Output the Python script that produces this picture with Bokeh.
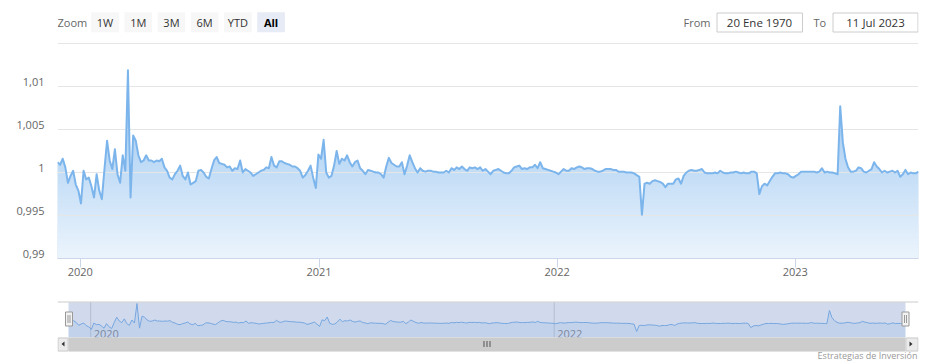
import numpy as np
import pandas as pd
from bokeh.plotting import figure
from bokeh.models import (ColumnDataSource, Range1d, FixedTicker, DatetimeTickFormatter,
                          CustomJSTickFormatter, LinearAxis)
from bokeh.layouts import column
from bokeh.core.properties import value
from bokeh.embed import file_html
from bokeh.resources import INLINE

# ---------------- data ----------------
START_DATE = "2019-11-27"
STEP = "4D"
VALUES = [
    1.0012, 1.0009, 1.0016, 1.0006, 0.9988, 0.9996, 1.0002, 0.9986, 0.9979, 0.9964,
    1.0002, 0.9992, 0.9994, 0.9984, 0.9971, 0.9998, 0.9979, 0.9969, 1.0004, 1.0037,
    1.0014, 1.0004, 1.0027, 0.9998, 0.9988, 1.0020, 1.0002, 1.0119, 0.9971, 1.0043,
    1.0037, 1.0020, 1.0012, 1.0014, 1.0020, 1.0014, 1.0014, 1.0012, 1.0014, 1.0013,
    1.0016, 1.0006, 1.0002, 0.9994, 0.9992, 0.9998, 1.0002, 1.0008, 0.9996, 0.9992,
    1.0000, 0.9986, 0.9988, 0.9990, 1.0002, 1.0003, 1.0000, 0.9995, 0.9993, 1.0004,
    1.0014, 1.0018, 1.0011, 1.0010, 1.0009, 1.0006, 1.0007, 1.0002, 1.0005, 1.0004,
    1.0014, 1.0000, 1.0004, 1.0002, 1.0000, 0.9996, 0.9998, 1.0000, 1.0002, 1.0003,
    1.0006, 1.0005, 1.0018, 1.0008, 1.0006, 1.0013, 1.0013, 1.0011, 1.0010, 1.0009,
    1.0007, 1.0007, 1.0005, 1.0002, 0.9994, 0.9997, 1.0002, 1.0008, 0.9994, 0.9982,
    1.0021, 1.0016, 1.0038, 1.0000, 0.9994, 0.9996, 1.0008, 1.0025, 1.0010, 1.0016,
    1.0014, 1.0020, 1.0012, 1.0007, 1.0012, 1.0014, 1.0005, 1.0002, 0.9998, 1.0003,
    1.0002, 1.0001, 1.0000, 1.0000, 0.9998, 0.9994, 1.0007, 1.0017, 1.0011, 1.0009,
    1.0007, 1.0007, 1.0012, 0.9998, 1.0008, 1.0020, 1.0012, 1.0005, 1.0000, 1.0005,
    1.0002, 1.0001, 1.0002, 1.0002, 1.0001, 1.0001, 1.0000, 1.0000, 1.0000, 1.0002,
    1.0000, 1.0005, 1.0003, 1.0006, 1.0004, 1.0007, 1.0004, 1.0002, 1.0006, 1.0005,
    1.0006, 1.0004, 1.0006, 1.0002, 1.0004, 1.0001, 0.9998, 1.0002, 1.0003, 1.0004,
    1.0002, 1.0000, 0.9999, 0.9999, 1.0002, 1.0006, 1.0007, 1.0008, 1.0004, 1.0005,
    1.0004, 1.0006, 1.0006, 1.0009, 1.0005, 1.0012, 1.0005, 1.0004, 1.0003, 1.0002,
    1.0001, 1.0000, 0.9998, 1.0001, 1.0004, 1.0002, 1.0002, 1.0005, 1.0004, 1.0006,
    1.0007, 1.0006, 1.0004, 1.0005, 1.0005, 1.0004, 1.0002, 1.0001, 1.0001, 1.0002,
    1.0004, 1.0004, 1.0004, 1.0003, 1.0003, 1.0001, 1.0001, 1.0001, 1.0000, 1.0000,
    1.0000, 0.9999, 0.9997, 0.9995, 0.9951, 0.9987, 0.9988, 0.9987, 0.9990, 0.9991,
    0.9990, 0.9989, 0.9987, 0.9983, 0.9987, 0.9987, 0.9987, 0.9992, 0.9993, 0.9987,
    0.9996, 1.0000, 1.0002, 1.0003, 1.0002, 1.0002, 1.0003, 1.0004, 1.0000, 0.9999,
    0.9999, 0.9999, 1.0000, 0.9999, 1.0002, 1.0000, 0.9999, 0.9999, 1.0000, 1.0000,
    1.0001, 1.0000, 0.9999, 1.0000, 0.9999, 0.9999, 1.0001, 1.0001, 0.9999, 0.9975,
    0.9984, 0.9987, 0.9985, 0.9990, 0.9995, 0.9999, 0.9999, 1.0000, 0.9999, 0.9999,
    0.9998, 0.9995, 0.9994, 0.9996, 0.9998, 1.0001, 1.0001, 1.0001, 1.0001, 1.0001,
    1.0001, 1.0000, 1.0001, 1.0005, 1.0000, 1.0001, 1.0000, 1.0000, 0.9999, 0.9998,
    1.0077, 1.0035, 1.0016, 1.0006, 1.0001, 1.0001, 1.0002, 1.0006, 1.0005, 1.0001,
    1.0000, 1.0002, 1.0004, 1.0012, 1.0007, 1.0004, 1.0000, 1.0002, 1.0000, 1.0001,
    1.0002, 1.0000, 1.0002, 0.9995, 0.9998, 1.0003, 0.9998, 1.0000, 0.9999, 0.9999, 1.0001,
]
Y_TICKS = [0.99, 0.995, 1.0, 1.005, 1.01]
GRID_LEVELS = [0.995, 1.0, 1.005, 1.01, 1.015]
Y_MIN, Y_MAX = 0.99, 1.015
X_TICK_DATES = ["2020-01-01", "2021-01-01", "2022-01-01", "2023-01-01"]
NAV_TICK_DATES = ["2020-01-01", "2022-01-01"]
NAV_TICK_LABELS = ["2020", "2022"]
BUTTONS = ["1W", "1M", "3M", "6M", "YTD", "All"]
SELECTED = "All"
FROM_TEXT = "20 Ene 1970"
TO_TEXT = "11 Jul 2023"
CREDITS = "Estrategias de Inversión"

# ---------------- styling ----------------
W = 928
FL, FR = 57, 918          # frame left / right (pixels)
FONT = value("Open Sans")
LINE = "#7cb5ec"


def ms(ts):
    return pd.Timestamp(ts).value / 1e6


dates = pd.date_range(START_DATE, periods=len(VALUES), freq=STEP)
src = ColumnDataSource(dict(date=dates, val=VALUES))
t0, t1 = ms(dates[0]), ms(dates[-1])


def chrome_fig(h, y0, y1):
    f = figure(width=W, height=h, x_range=Range1d(FL, FR), y_range=Range1d(y1, y0),
               x_axis_location=None, y_axis_location=None,
               min_border_left=FL, min_border_right=W - FR, min_border_top=0, min_border_bottom=0,
               output_backend="svg", toolbar_location=None, tools="")
    f.outline_line_color = None
    f.grid.visible = False
    return f


# ---------------- top bar (range selector) ----------------
top = chrome_fig(42, 0, 42)
top.text(x=[57], y=[22], text=["Zoom"], text_font=FONT, text_font_size="11px",
         text_color="#666666", text_align="left", text_baseline="middle")
b_left = [90.7 + 33.2 * k for k in range(len(BUTTONS))]
b_fill = ["#e6ebf5" if b == SELECTED else "#f7f7f7" for b in BUTTONS]
top.quad(left=b_left, right=[l + 27.7 for l in b_left], top=[11.7] * len(BUTTONS),
         bottom=[31.7] * len(BUTTONS), fill_color=b_fill, line_color=None)
normal = [i for i, b in enumerate(BUTTONS) if b != SELECTED]
sel = [i for i, b in enumerate(BUTTONS) if b == SELECTED]
top.text(x=[b_left[i] + 13.85 for i in normal], y=[22] * len(normal), text=[BUTTONS[i] for i in normal],
         text_font=FONT, text_font_size="11px", text_color="#333333", text_align="center", text_baseline="middle")
top.text(x=[b_left[i] + 13.85 for i in sel], y=[22] * len(sel), text=[BUTTONS[i] for i in sel],
         text_font=FONT, text_font_size="11px", text_font_style="bold", text_color="#000000",
         text_align="center", text_baseline="middle")
top.text(x=[683, 813], y=[22, 22], text=["From", "To"], text_font=FONT, text_font_size="11px",
         text_color="#666666", text_align="left", text_baseline="middle")
top.quad(left=[716.5, 832.5], right=[802, 917.5], top=[12.5, 12.5], bottom=[31.5, 31.5],
         fill_color="white", line_color="#cccccc", line_width=1)
top.text(x=[759, 875], y=[22, 22], text=[FROM_TEXT, TO_TEXT], text_font=FONT, text_font_size="11.5px",
         text_color="#333333", text_align="center", text_baseline="middle")

# ---------------- main chart ----------------
px_per_unit = 215 / (Y_MAX - Y_MIN)
Y_END = Y_MAX + 1 / px_per_unit
main = figure(width=W, height=248, x_axis_type="datetime", y_axis_location=None,
              x_range=Range1d(t0, t1), y_range=Range1d(Y_MIN, Y_END),
              min_border_left=FL, min_border_right=W - FR, min_border_top=0, min_border_bottom=32,
              output_backend="svg", toolbar_location=None, tools="")
main.outline_line_color = None
main.grid.visible = False

main.varea(x="date", y1=Y_MIN, y2="val", source=src, fill_color=LINE, fill_alpha=1.0)
# vertical white fade (gradient) over the area, as an image
NROWS = 215
frac = (np.arange(NROWS) + 0.5) / NROWS          # 0 at bottom, 1 at top
alpha = (0.855 - frac * 0.765) * 255
img = np.zeros((NROWS, 1), dtype=np.uint32)
view = img.view(dtype=np.uint8).reshape((NROWS, 1, 4))
view[:, 0, 0] = 255
view[:, 0, 1] = 255
view[:, 0, 2] = 255
view[:, 0, 3] = alpha.astype(np.uint8)
main.image_rgba(image=[img], x=t0, y=Y_MIN, dw=t1 - t0, dh=Y_MAX - Y_MIN)
main.segment(x0=t0, x1=t1, y0=GRID_LEVELS, y1=GRID_LEVELS, line_color="#e6e6e6", line_width=1)
main.line(x="date", y="val", source=src, line_color=LINE, line_width=2, line_join="round")

xa = main.xaxis[0]
xa.ticker = FixedTicker(ticks=[ms(d) for d in X_TICK_DATES])
xa.formatter = DatetimeTickFormatter(years="%Y", months="%Y", days="%Y")
xa.axis_line_color = "#ccd6eb"
xa.major_tick_line_color = "#ccd6eb"
xa.minor_tick_line_color = None
xa.major_tick_out = 9
xa.major_tick_in = 0
xa.major_label_standoff = 0
xa.major_label_text_color = "#666666"
xa.major_label_text_font = "Open Sans"
xa.major_label_text_font_size = "11px"

# y labels sit ~5px above their grid lines (Highcharts style): axis on a shifted range
shift = 5 / px_per_unit
main.extra_y_ranges = {"lab": Range1d(Y_MIN - shift, Y_END - shift)}
ya = LinearAxis(y_range_name="lab")
ya.ticker = FixedTicker(ticks=Y_TICKS)
ya.formatter = CustomJSTickFormatter(code="return String(tick).replace('.', ',');")
ya.axis_line_color = None
ya.major_tick_line_color = None
ya.minor_tick_line_color = None
ya.major_tick_out = 0
ya.major_tick_in = 0
ya.major_label_standoff = 13
ya.major_label_text_color = "#666666"
ya.major_label_text_font = "Open Sans"
ya.major_label_text_font_size = "11px"
main.add_layout(ya, "left")

# ---------------- navigator + scrollbar ----------------
NAV_L, NAV_R, NAV_TOP, NAV_BOT = 68, 905, 301, 337
nav = chrome_fig(74, 290, 364)
mpp = (t1 - t0) / (NAV_R - NAV_L)
nav.extra_x_ranges = {"t": Range1d(t0 - (NAV_L - FL) * mpp, t1 + (FR - NAV_R) * mpp)}
vmin, vmax = min(VALUES), max(VALUES)
vpp = (vmax - vmin) / (331 - 303)
nav.extra_y_ranges = {"v": Range1d(vmin - (364 - 331) * vpp, vmax + (303 - 290) * vpp)}
v_bottom = vmin - (NAV_BOT - 331) * vpp

nav.segment(x0=[FL], x1=[FR], y0=[NAV_TOP + 0.5], y1=[NAV_TOP + 0.5], line_color="#cccccc", line_width=1)
nav_ticks = [ms(d) for d in NAV_TICK_DATES]
nav.segment(x0=nav_ticks, x1=nav_ticks, y0=NAV_TOP, y1=NAV_BOT, x_range_name="t",
            line_color="#d8d8d8", line_width=1)
nav.varea(x="date", y1=v_bottom, y2="val", source=src, x_range_name="t", y_range_name="v",
          fill_color=LINE, fill_alpha=0.15)
nav.line(x="date", y="val", source=src, x_range_name="t", y_range_name="v",
         line_color=LINE, line_width=1)
nav.quad(left=[NAV_L], right=[NAV_R], top=[NAV_TOP + 1], bottom=[NAV_BOT],
         fill_color="#6685c2", fill_alpha=0.3, line_color=None)
nav.text(x=nav_ticks, y=[333] * len(nav_ticks), text=NAV_TICK_LABELS, x_range_name="t", x_offset=3,
         text_font=FONT, text_font_size="11px", text_color="#7d889c",
         text_align="left", text_baseline="alphabetic")
# scrollbar
nav.quad(left=[FL], right=[FR], top=[337], bottom=[351], fill_color="#f2f2f2", line_color=None)
nav.quad(left=[NAV_L], right=[NAV_R], top=[337], bottom=[351], fill_color="#cccccc", line_color=None)
nav.quad(left=[FL + 0.5, NAV_R + 0.5], right=[NAV_L - 0.5, FR - 0.5], top=[337.5, 337.5], bottom=[350.5, 350.5],
         fill_color="#ebebeb", line_color="#cccccc", line_width=1)
nav.patches(xs=[[61, 64, 64], [912, 909, 909]], ys=[[343.5, 341, 346], [343.5, 341, 346]],
            fill_color="#333333", line_color=None)
cx = (NAV_L + NAV_R) / 2
rx = [cx - 3, cx, cx + 3]
nav.segment(x0=rx, x1=rx, y0=340.5, y1=346.5, line_color="#555555", line_width=1)
# handles
hx = [NAV_L + 0.5, NAV_R]
nav.quad(left=[h - 3.5 for h in hx], right=[h + 3.5 for h in hx], top=[311.5, 311.5], bottom=[325.5, 325.5],
         fill_color="#f2f2f2", line_color="#999999", line_width=1)
lx = [h - 1 for h in hx] + [h + 1 for h in hx]
nav.segment(x0=lx, x1=lx, y0=314.5, y1=322.5, line_color="#999999", line_width=1)
# credits
nav.text(x=[917], y=[355], text=[CREDITS], text_font=FONT, text_font_size="9px",
         text_color="#999999", text_align="right", text_baseline="middle")

layout = column(top, main, nav, spacing=0)
open("out.html", "w").write(file_html(layout, INLINE))
